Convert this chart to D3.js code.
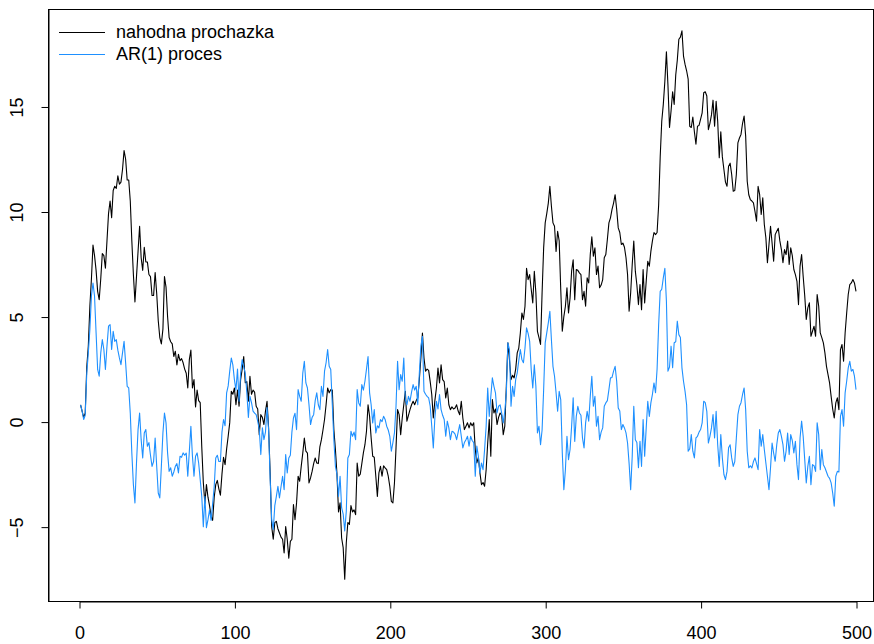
<!DOCTYPE html>
<html>
<head>
<meta charset="utf-8">
<script src="https://cdn.jsdelivr.net/npm/d3@7"></script>
<style>
  body { margin: 0; background: #fff; }
  svg { display: block; }
  text { font-family: "Liberation Sans", Arial, Helvetica, sans-serif; }
</style>
</head>
<body>
<svg id="chart" width="874" height="644"></svg>
<script>
// Random walk (nahodna prochazka), one value per step 1..500
const randomWalk = [
  0.8, 0.5, 0.2, 0.4, 2.6, 3.6, 5.5, 6.8, 8.4, 7.9,
  7.2, 6.2, 5.8, 6.8, 8.0, 7.9, 7.3, 8.6, 9.9, 10.5,
  9.7, 11.0, 11.2, 11.1, 11.7, 11.3, 11.4, 12.0, 12.9, 12.5,
  11.5, 11.5, 10.5, 8.6, 7.0, 5.7, 6.9, 8.1, 9.3, 7.8,
  7.2, 8.3, 7.6, 7.6, 7.0, 6.9, 6.0, 6.0, 7.1, 6.1,
  4.8, 4.0, 3.7, 4.4, 6.9, 6.4, 5.0, 4.0, 3.8, 3.7,
  3.1, 3.35, 2.7, 3.2, 2.9, 3.0, 2.8, 2.5, 2.3, 1.6,
  2.95, 3.4, 1.6, 2.0, 0.7, 1.5, 1.0, 0.9, -1.2, -2.9,
  -3.9, -3.0, -3.6, -4.0, -4.5, -4.7, -3.6, -3.0, -2.8, -3.2,
  -3.5, -2.5, -1.7, -2.05, -1.3, -0.7, -0.05, 1.44, 1.3, 1.6,
  0.8, 1.5, 0.73, 2.0, 2.5, 3.1, 1.85, 1.9, 0.97, 2.16,
  1.3, 1.5, 1.4, 0.73, 0.6, -0.62, 0.33, 0.2, -0.14, 0.5,
  0.97, -0.29, -2.43, -5.0, -5.6, -4.8, -4.75, -5.1, -5.3, -5.5,
  -5.6, -6.25, -5.0, -5.6, -6.5, -5.7, -5.6, -3.95, -4.67, -3.87,
  -2.6, -2.84, -2.13, -1.5, -0.78, -1.41, -1.5, -2.92, -2.68, -2.37,
  -2.0, -1.73, -1.97, -2.0, -1.2, -0.86, -0.4, 0.1, 0.8, 1.6,
  1.37, 1.52, 1.5, -0.38, -1.33, -2.5, -4.3, -3.87, -5.54, -6.0,
  -7.5, -5.78, -4.8, -4.9, -4.0, -4.3, -4.2, -4.43, -1.97, -2.6,
  -2.5, -2.0, -1.49, -1.1, -0.46, 0.8, 0.25, -0.78, -1.65, -1.7,
  -2.6, -3.56, -2.44, -2.13, -2.6, -2.1, -2.2, -2.29, -2.6, -3.08,
  -3.8, -3.87, -2.92, -1.25, 0.57, 0.33, -0.62, 0.17, 0.8, 1.44,
  0.02, 0.3, 0.57, 0.8, 0.97, 0.8, 1.0, 1.13, 2.0, 3.03,
  4.22, 3.03, 2.4, 2.5, 2.44, 1.9, 1.29, 0.17, 1.0, 1.6,
  2.55, 1.84, 2.7, 2.0, 1.9, 1.13, 1.6, 0.8, 0.57, 0.7,
  0.6, 0.65, 0.8, 0.5, 0.33, 0.97, 0.17, -0.38, -0.22, -0.06,
  -0.3, -0.06, -0.2, -0.06, -1.33, -1.97, -1.7, -2.44, -3.0, -2.9,
  -3.08, -2.29, -1.02, 0.1, -1.65, 1.05, 0.41, 0.6, -0.14, 0.2,
  0.41, 0.3, -0.62, -0.22, 1.68, 3.75, 2.95, 2.0, 2.2, 2.08,
  2.5, 3.27, 3.5, 4.22, 5.17, 4.86, 5.49, 7.3, 6.76, 7.0,
  6.3, 5.65, 7.16, 6.13, 4.3, 4.0, 3.67, 6.13, 8.27, 9.46,
  9.9, 10.4, 11.2, 10.25, 9.46, 9.3, 8.1, 9.06, 8.6, 6.3,
  4.3, 5.0, 5.49, 6.37, 5.17, 5.89, 7.16, 7.7, 5.8, 7.24,
  7.2, 7.08, 7.0, 5.8, 6.2, 5.49, 6.84, 6.6, 7.95, 8.8,
  7.87, 8.27, 7.0, 7.4, 6.37, 6.5, 6.76, 7.8, 7.95, 8.67,
  9.46, 9.7, 10.1, 10.4, 10.8, 10.1, 9.22, 9.0, 8.43, 8.5,
  8.3, 7.8, 7.0, 5.25, 6.13, 7.48, 8.59, 7.16, 6.5, 5.57,
  6.52, 5.33, 7.24, 5.65, 6.68, 7.63, 7.4, 8.1, 8.6, 9.0,
  8.9, 9.0, 10.3, 12.6, 14.3, 15.1, 16.2, 17.6, 16.0, 14.0,
  14.8, 15.7, 15.1, 16.5, 17.2, 18.2, 18.3, 18.6, 17.4, 17.0,
  16.7, 16.3, 14.06, 14.0, 14.5, 13.8, 13.2, 14.06, 14.1, 14.4,
  14.7, 15.65, 15.7, 15.5, 13.9, 14.2, 14.6, 15.3, 14.06, 15.25,
  14.3, 12.56, 13.8, 12.6, 12.0, 11.4, 11.2, 12.16, 12.3, 11.76,
  10.97, 11.0, 11.76, 13.27, 13.5, 13.67, 14.2, 14.54, 13.59, 11.44,
  10.8, 10.57, 10.5, 10.41, 10.0, 9.54, 11.2, 10.8, 9.86, 10.65,
  9.38, 8.75, 7.56, 8.43, 9.3, 8.5, 7.63, 8.9, 9.06, 9.2,
  8.6, 8.19, 7.56, 8.19, 7.95, 8.59, 7.48, 8.27, 7.9, 7.24,
  7.0, 6.68, 5.57, 7.4, 7.95, 6.92, 6.0, 4.86, 5.41, 5.65,
  4.06, 4.3, 4.54, 4.06, 6.05, 5.49, 4.22, 4.0, 3.75, 3.27,
  2.63, 2.24, 1.84, 1.2, 0.6, 0.17, 0.89, 1.13, 0.57, 3.43,
  3.67, 2.87, 4.22, 5.17, 6.05, 6.52, 6.6, 6.76, 6.6, 6.2
];

// AR(1) process, one value per step 1..500
const arProcess = [
  0.8, 0.5, 0.1, 0.3, 2.3, 3.27, 4.38, 5.97, 6.6, 5.97,
  4.22, 2.48, 2.16, 3.27, 3.9, 3.43, 2.48, 3.59, 4.54, 4.62,
  3.43, 4.3, 3.82, 3.9, 3.4, 3.03, 2.71, 3.27, 3.82, 2.8,
  1.68, 1.6, 0.4, -1.5, -3.0, -3.87, -1.97, -0.38, 0.41, -0.86,
  -1.73, -0.54, -0.38, -1.17, -1.0, -1.6, -2.13, -1.9, -0.78, -2.13,
  -3.4, -3.63, -2.13, -0.54, 0.41, -0.06, -1.49, -2.37, -2.2, -2.6,
  -2.4, -2.13, -2.0, -2.44, -1.65, -1.7, -1.49, -1.6, -1.5, -2.6,
  -1.41, -0.22, -1.65, -2.6, -1.65, -1.49, -1.97, -2.76, -3.56, -5.0,
  -3.56, -5.05, -4.67, -4.2, -4.7, -3.9, -3.1, -1.73, -1.6, -1.9,
  -1.9, -0.5, 0.1, -0.2, 1.37, 1.7, 2.4, 3.03, 2.7, 2.0,
  1.5, 2.5, 0.97, 2.3, 2.95, 2.6, 2.3, 1.37, 0.2, 1.2,
  0.9, 0.5, 0.4, 0.33, 0.02, -0.38, -1.57, -0.29, -0.86, -0.5,
  0.67, -0.38, -2.7, -4.67, -5.14, -4.0, -3.56, -3.08, -3.63, -3.1,
  -2.6, -3.24, -1.57, -2.44, -1.73, -1.6, -0.5, 0.17, 0.4, -0.38,
  1.52, 1.2, 0.97, 2.3, 2.87, 1.84, 1.6, 0.8, -0.14, 0.2,
  0.33, 1.0, 1.37, 0.8, 0.57, 1.68, 1.2, 2.4, 2.8, 3.43,
  2.63, 2.48, 0.8, -0.86, -2.13, -2.5, -3.56, -2.6, -4.1, -4.4,
  -5.2, -4.27, -1.73, -1.57, -0.46, -0.7, -0.5, -0.86, 1.52, 0.89,
  0.73, 1.76, 1.5, 1.92, 2.5, 3.1, 1.37, 0.8, -0.06, 0.57,
  -0.54, -0.2, -0.3, 0.1, 0.0, 0.25, 0.1, -0.22, -0.4, -0.7,
  -1.41, -1.0, -0.54, 0.73, 2.87, 1.52, 2.24, 1.92, 3.03, 1.05,
  0.8, 1.2, 0.97, 1.4, 1.76, 1.5, 1.68, 0.8, 2.3, 3.59,
  4.06, 1.44, 1.3, 1.2, 1.13, 0.73, -0.22, -1.25, 0.17, 0.97,
  0.6, 1.29, 0.57, 0.3, 0.1, -0.7, 0.02, -0.3, -0.86, -0.46,
  -0.5, -0.6, -0.86, -0.5, -0.14, -0.7, -1.25, -1.0, -0.86, -0.7,
  -1.17, -0.7, -0.9, -1.0, -2.6, -1.17, -1.65, -2.44, -1.97, -2.29,
  -1.33, -0.22, 1.6, 0.25, 1.2, 2.08, 1.68, 1.37, 0.41, 0.73,
  0.8, 0.4, -0.06, 0.5, 1.37, 3.75, 3.43, 0.73, 1.68, 1.2,
  2.0, 2.32, 2.9, 3.43, 2.95, 2.8, 3.5, 4.46, 4.2, 3.82,
  2.48, 1.6, 2.7, 1.68, -0.54, -0.22, -1.1, -0.4, 1.52, 3.75,
  4.22, 4.7, 5.25, 3.9, 2.63, 2.16, 1.37, 0.49, 1.44, 1.05,
  -1.49, -3.24, -2.29, -0.7, -1.81, -1.33, -0.22, 1.13, -0.94, 0.25,
  0.73, 0.41, 0.3, -0.78, -1.25, -0.06, 0.49, 0.02, 1.2, 2.16,
  0.73, 1.2, -0.22, 0.25, -0.86, -0.5, -0.3, 0.73, 0.89, 1.0,
  1.52, 2.08, 2.1, 2.4, 2.63, 1.92, 0.65, 0.5, -0.38, -0.14,
  -0.3, -0.54, -1.02, -2.0, -3.24, -1.65, 0.73, -0.86, -1.0, -2.2,
  -0.94, -2.13, 0.1, -1.65, -0.3, 0.97, 0.25, 0.89, 1.3, 1.84,
  1.37, 2.5, 4.6, 6.2, 6.3, 6.84, 7.3, 5.73, 2.4, 2.6,
  3.59, 2.56, 3.75, 3.8, 4.78, 4.14, 4.0, 2.56, 1.92, 1.44,
  0.8, -1.41, -1.3, -0.62, -1.41, -1.73, -0.78, -0.7, -0.5, -0.38,
  -0.06, 0.97, 0.9, 0.49, -1.02, -0.7, -0.3, 0.33, -0.78, 0.49,
  -1.1, -2.13, -0.62, -1.73, -2.52, -2.76, -2.37, -1.25, -1.1, -1.73,
  -2.13, -1.9, -0.78, 0.33, 0.73, 0.9, 1.29, 1.6, 0.57, -1.41,
  -2.2, -2.1, -2.2, -1.9, -1.73, -2.0, -2.29, -0.38, -1.17, -0.62,
  -1.33, -1.97, -2.6, -3.24, -2.2, -1.02, -1.5, -1.89, -1.1, -0.54,
  -0.38, -0.7, -1.1, -1.89, -1.41, -0.54, -1.57, -0.62, -0.9, -1.49,
  -0.94, -2.05, -2.76, -0.78, 0.02, -0.7, -1.8, -2.92, -2.13, -1.65,
  -3.0, -2.05, -2.1, -2.37, -0.06, -0.62, -2.29, -1.33, -2.05, -2.2,
  -2.4, -2.6, -2.7, -2.92, -3.4, -4.03, -2.6, -2.37, -2.4, 0.25,
  0.57, -0.22, 1.37, 1.92, 2.56, 2.87, 2.4, 2.48, 2.16, 1.52
];

const seriesNames = ["nahodna prochazka", "AR(1) proces"];
const seriesColors = ["#000000", "#1E90FF"];
const xTicks = [0, 100, 200, 300, 400, 500];
const yTicks = [-5, 0, 5, 10, 15];

// ---- layout ----
const frame = { left: 48, right: 873, top: 9, bottom: 601 };
const fontSize = 18;

const svg = d3.select("#chart");

const x = d3.scaleLinear().domain([0, 500]).range([79, 856]);
const y = d3.scaleLinear().domain([-8.54, 19.64]).range([frame.bottom, frame.top]);

const steps = d3.range(1, randomWalk.length + 1);

// plot frame
svg.append("rect")
  .attr("x", frame.left + 0.5)
  .attr("y", frame.top + 0.5)
  .attr("width", frame.right - frame.left)
  .attr("height", frame.bottom - frame.top)
  .attr("fill", "none")
  .attr("stroke", "#000")
  .attr("stroke-width", 1);

// bottom axis
const xAxis = svg.append("g")
  .attr("transform", `translate(0.5,${frame.bottom + 0.5})`)
  .call(d3.axisBottom(x).tickValues(xTicks).tickSize(7).tickPadding(18)
    .tickSizeOuter(0).tickFormat(d3.format("d")));
xAxis.select(".domain").attr("stroke", "#000");
xAxis.selectAll(".tick line").attr("stroke", "#000");
xAxis.selectAll(".tick text")
  .attr("fill", "#000")
  .style("font-size", fontSize + "px")
  .style("font-family", '"Liberation Sans", Arial, sans-serif');

// left axis with labels turned to read upwards
const yAxis = svg.append("g")
  .attr("transform", `translate(${frame.left + 0.5},0.5)`)
  .call(d3.axisLeft(y).tickValues(yTicks).tickSize(7).tickSizeOuter(0));
yAxis.select(".domain").attr("stroke", "#000");
yAxis.selectAll(".tick line").attr("stroke", "#000");
yAxis.selectAll(".tick text")
  .attr("fill", "#000")
  .attr("x", 0)
  .attr("y", -26)
  .attr("dy", 0)
  .attr("transform", "rotate(-90)")
  .attr("text-anchor", "middle")
  .style("font-size", fontSize + "px")
  .style("font-family", '"Liberation Sans", Arial, sans-serif');

// series lines
const line = d3.line()
  .x((d, i) => x(steps[i]))
  .y(d => y(d));

const plot = svg.append("g");
[randomWalk, arProcess].forEach((values, k) => {
  plot.append("path")
    .datum(values)
    .attr("fill", "none")
    .attr("stroke", seriesColors[k])
    .attr("stroke-width", 1.1)
    .attr("stroke-linejoin", "round")
    .attr("d", line);
});

// legend
const legend = svg.append("g");
seriesNames.forEach((name, k) => {
  const ly = 32 + k * 22;
  legend.append("line")
    .attr("x1", 59).attr("x2", 105)
    .attr("y1", ly + 0.5).attr("y2", ly + 0.5)
    .attr("stroke", seriesColors[k])
    .attr("stroke-width", 1.1);
  legend.append("text")
    .attr("x", 116)
    .attr("y", ly)
    .attr("dy", "0.35em")
    .style("font-size", fontSize + "px")
    .attr("fill", "#000")
    .text(name);
});
</script>
</body>
</html>
